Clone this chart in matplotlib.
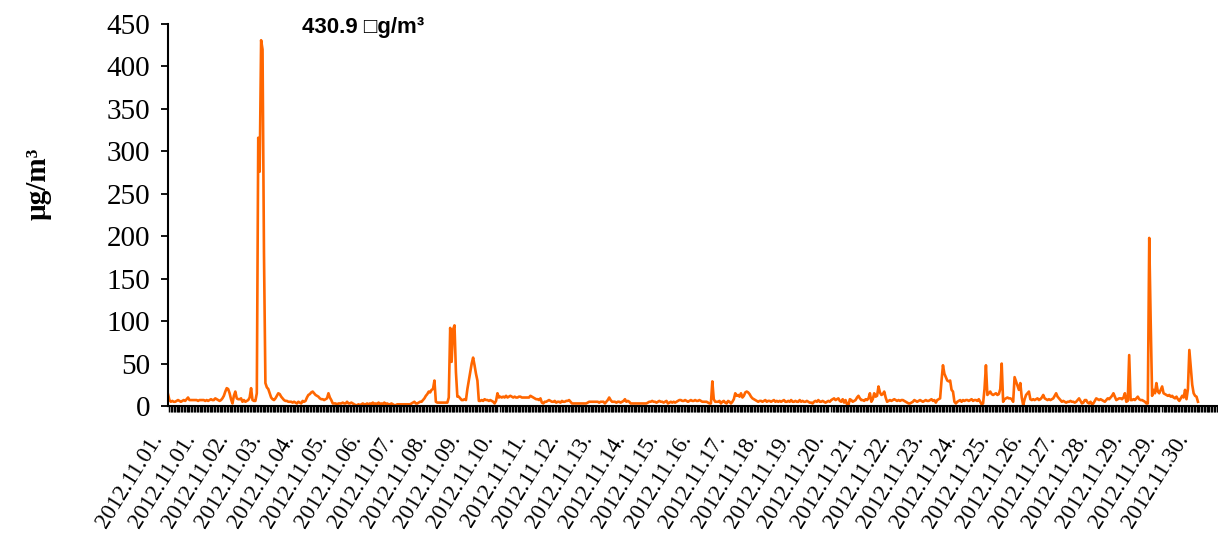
import numpy as np
import matplotlib
matplotlib.use('Agg')
import matplotlib.pyplot as plt
from matplotlib.transforms import ScaledTranslation

# hourly concentration, one line per day (2012.11.01 .. 2012.11.30)
pm_hourly = [
    14, 7, 5, 6, 5, 5, 6, 7, 6, 5, 6, 7, 6, 8, 10, 7, 7, 7, 7, 7, 7, 6, 7, 7,
    7, 7, 6, 7, 6, 7, 8, 7, 7, 9, 8, 7, 6, 7, 9, 12, 17, 21, 20, 15, 8, 3, 12, 17,
    9, 8, 8, 9, 5, 7, 5, 6, 7, 10, 21, 7, 6, 6, 15, 316, 276, 430.9, 420, 180, 27, 22, 20, 15,
    10, 8, 7, 9, 12, 15, 14, 11, 9, 7, 6, 6, 5, 5, 5, 4, 5, 4, 3, 5, 4, 3, 6, 5,
    6, 10, 13, 14, 16, 17, 15, 13, 12, 11, 9, 8, 8, 7, 8, 9, 15, 10, 7, 3, 3, 3, 2, 3,
    3, 3, 4, 3, 3, 5, 3, 3, 4, 3, 2, 1, 1, 2, 1, 2, 3, 2, 2, 3, 2, 3, 2, 4,
    2, 3, 2, 4, 2, 3, 2, 4, 2, 3, 2, 2, 3, 2, 1, 1, 2, 2, 2, 2, 2, 2, 2, 2,
    2, 2, 3, 4, 5, 3, 3, 4, 5, 5, 7, 9, 12, 14, 17, 16, 19, 20, 30, 5, 4, 4, 4, 4,
    4, 4, 4, 4, 10, 92, 52, 90, 95, 40, 11, 11, 9, 7, 7, 8, 7, 20, 30, 40, 50, 57, 48, 38,
    30, 6, 6, 7, 6, 8, 7, 7, 6, 7, 6, 5, 3, 6, 15, 10, 11, 10, 11, 10, 12, 10, 11, 12,
    11, 10, 11, 10, 10, 11, 11, 10, 10, 10, 10, 10, 10, 12, 11, 10, 9, 8, 8, 7, 9, 4, 3, 5,
    5, 6, 7, 6, 5, 5, 6, 4, 5, 5, 4, 6, 5, 5, 6, 6, 7, 5, 3, 3, 3, 3, 3, 3,
    3, 3, 3, 3, 3, 4, 5, 5, 5, 5, 5, 5, 5, 4, 5, 5, 5, 3, 5, 7, 10, 7, 5, 5,
    5, 4, 5, 5, 4, 5, 6, 8, 5, 6, 5, 3, 3, 3, 3, 3, 3, 3, 3, 3, 3, 3, 3, 4,
    5, 5, 6, 5, 5, 4, 5, 6, 5, 5, 4, 5, 6, 3, 4, 5, 4, 5, 4, 5, 6, 7, 7, 6,
    6, 7, 6, 5, 6, 7, 6, 6, 7, 6, 6, 7, 6, 5, 5, 5, 5, 4, 3, 3, 29, 8, 5, 5,
    5, 6, 3, 5, 6, 4, 3, 6, 5, 3, 5, 8, 15, 12, 13, 11, 15, 10, 12, 16, 17, 16, 14, 11,
    9, 8, 7, 6, 5, 6, 6, 5, 6, 7, 5, 6, 6, 5, 6, 7, 5, 6, 5, 6, 5, 6, 7, 5,
    5, 6, 5, 7, 5, 5, 6, 5, 5, 7, 5, 6, 5, 5, 6, 5, 4, 4, 3, 5, 6, 5, 7, 5,
    5, 6, 5, 4, 5, 6, 5, 7, 8, 9, 7, 8, 9, 6, 5, 8, 4, 7, 2, 1, 8, 7, 5, 6,
    7, 10, 12, 9, 7, 7, 6, 8, 7, 9, 15, 5, 8, 15, 11, 12, 23, 16, 13, 14, 17, 10, 5, 6,
    7, 6, 7, 8, 7, 6, 7, 6, 7, 7, 6, 5, 4, 3, 3, 4, 5, 7, 6, 5, 6, 7, 6, 5,
    6, 7, 6, 6, 7, 8, 6, 7, 4, 7, 8, 9, 30, 48, 38, 34, 30, 29, 30, 19, 17, 5, 3, 5,
    6, 7, 5, 7, 6, 7, 7, 6, 7, 8, 6, 7, 7, 6, 8, 5, 2, 3, 20, 48, 13, 15, 17, 14,
    13, 14, 15, 13, 14, 20, 50, 5, 8, 9, 10, 9, 9, 8, 5, 34, 29, 24, 19, 27, 10, 1, 8, 13,
    15, 17, 8, 7, 8, 7, 8, 9, 7, 8, 10, 13, 9, 8, 7, 8, 7, 8, 9, 12, 15, 11, 9, 7,
    5, 6, 5, 4, 5, 5, 6, 5, 5, 4, 5, 7, 9, 6, 3, 4, 7, 7, 4, 3, 5, 2, 3, 6,
    9, 8, 7, 8, 7, 6, 5, 7, 9, 8, 10, 12, 15, 11, 7, 8, 9, 9, 8, 10, 15, 5, 6, 60,
    7, 7, 8, 7, 9, 11, 8, 7, 7, 6, 5, 3, 3, 198, 100, 12, 19, 15, 27, 17, 15, 19, 23, 15,
    14, 13, 12, 13, 11, 12, 10, 9, 11, 8, 6, 9, 12, 10, 19, 8, 20, 66, 45, 25, 15, 12, 11, 5,
]

date_labels = [
    '2012.11.01.', '2012.11.01.', '2012.11.02.', '2012.11.03.', '2012.11.04.',
    '2012.11.05.', '2012.11.06.', '2012.11.07.', '2012.11.08.', '2012.11.09.',
    '2012.11.10.', '2012.11.11.', '2012.11.12.', '2012.11.13.', '2012.11.14.',
    '2012.11.15.', '2012.11.16.', '2012.11.17.', '2012.11.18.', '2012.11.19.',
    '2012.11.20.', '2012.11.21.', '2012.11.22.', '2012.11.23.', '2012.11.24.',
    '2012.11.25.', '2012.11.26.', '2012.11.27.', '2012.11.28.', '2012.11.29.',
    '2012.11.29.', '2012.11.30.',
]

y_ticks = [0, 50, 100, 150, 200, 250, 300, 350, 400, 450]
peak_note = '430.9 \u25a1g/m\u00b3'
unit_label = '\u00b5g/m\u00b3'


def main():
    plt.rcParams['font.family'] = ['Liberation Serif', 'DejaVu Serif']

    fig = plt.figure(figsize=(12.18, 5.37), dpi=100)
    ax = fig.add_axes([168 / 1218, 131 / 537, 1050 / 1218, 382 / 537])

    hours = np.arange(len(pm_hourly))
    ax.plot(hours, pm_hourly, color='#ff6600', lw=1.9, solid_joinstyle='round')

    ax.set_xlim(0, 733)
    ax.set_ylim(0, 450)

    for side in ('top', 'right'):
        ax.spines[side].set_visible(False)
    for side in ('left', 'bottom'):
        ax.spines[side].set_linewidth(1.5)
        ax.spines[side].set_color('black')

    # one tick per hour -> dense black band under the axis
    ax.set_xticks(np.arange(0, 734), minor=True)
    ax.tick_params(axis='x', which='minor', length=4.5, width=1.05,
                   direction='out', color='black')

    label_pos = np.arange(len(date_labels)) * 23.1
    ax.set_xticks(label_pos)
    ax.set_xticklabels(date_labels, rotation=58, ha='right', va='center',
                       rotation_mode='anchor', fontsize=16.5)
    ax.tick_params(axis='x', which='major', length=0, pad=21)
    shift = ScaledTranslation(-0.1, 0, fig.dpi_scale_trans)
    for lbl in ax.get_xticklabels():
        lbl.set_transform(lbl.get_transform() + shift)

    ax.set_yticks(y_ticks)
    ax.tick_params(axis='y', length=5, width=1.3, direction='out',
                   labelsize=21, pad=8)

    fig.text(38 / 1218, 1 - 184 / 537, unit_label, rotation=90, fontsize=21,
             fontweight='bold', ha='center', va='center')
    fig.text(302 / 1218, 1 - 33 / 537, peak_note, fontsize=16, fontweight='bold',
             family=['Liberation Sans', 'DejaVu Sans'], ha='left', va='baseline')

    fig.savefig('out.png', dpi=100)


if __name__ == "__main__":
    main()
